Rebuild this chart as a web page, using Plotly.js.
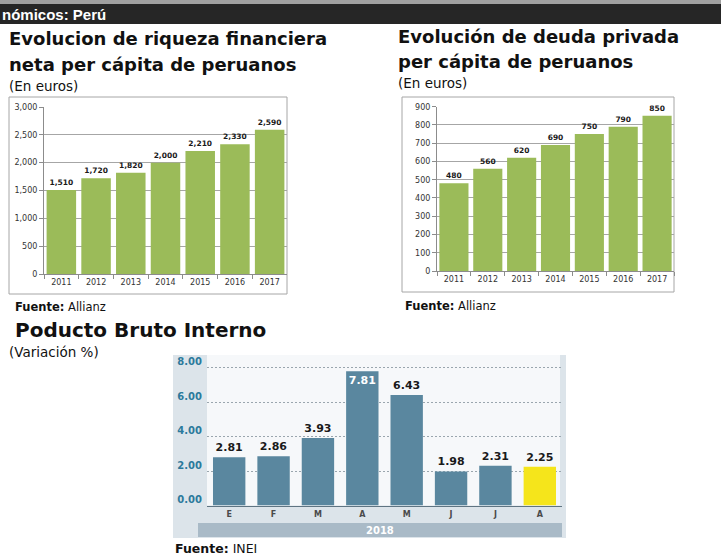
<!DOCTYPE html>
<html>
<head>
<meta charset="utf-8">
<script src="https://cdn.plot.ly/plotly-3.0.1.min.js"></script>
<style>
  html, body { margin: 0; padding: 0; background: #ffffff; }
  #chart { width: 721px; height: 560px; }
</style>
</head>
<body>
<div id="chart"></div>
<script>
// ---------- DATA ----------
const years = ['2011', '2012', '2013', '2014', '2015', '2016', '2017'];
const riquezaNeta = [1510, 1720, 1820, 2000, 2210, 2330, 2590];
const deudaPrivada = [480, 560, 620, 690, 750, 790, 850];
const meses = ['Enero', 'Febrero', 'Marzo', 'Abril', 'Mayo', 'Junio', 'Julio', 'Agosto'];
const mesesEtiquetas = ['E', 'F', 'M', 'A', 'M', 'J', 'J', 'A'];
const pbiVariacion = [2.81, 2.86, 3.93, 7.81, 6.43, 1.98, 2.31, 2.25];
const pbiTicks = [0, 2, 4, 6, 8];
const anioPbi = '2018';

// ---------- helpers (pixel -> paper) ----------
const W = 721, H = 560;
const px = v => v / W;
const py = v => 1 - v / H;

const GREEN = '#9bbb59';
const BLUE = '#5a879f';
const YELLOW = '#f5e51b';
const SANS = 'DejaVu Sans';

const traces = [
  {
    type: 'bar', x: years, y: riquezaNeta, xaxis: 'x', yaxis: 'y',
    marker: { color: GREEN }, width: 0.85,
    texttemplate: '%{y:,}', textposition: 'outside', cliponaxis: false,
    textfont: { family: SANS, size: 7.5, weight: 'bold', color: '#1a1a1a' },
    hoverinfo: 'skip'
  },
  {
    type: 'bar', x: years, y: deudaPrivada, xaxis: 'x2', yaxis: 'y2',
    marker: { color: GREEN }, width: 0.86,
    texttemplate: '%{y:,}', textposition: 'outside', cliponaxis: false,
    textfont: { family: SANS, size: 7.5, weight: 'bold', color: '#1a1a1a' },
    hoverinfo: 'skip'
  },
  {
    type: 'bar', x: meses, y: pbiVariacion, xaxis: 'x3', yaxis: 'y3',
    marker: { color: pbiVariacion.map((v, i) => i === pbiVariacion.length - 1 ? YELLOW : BLUE) },
    width: 0.73,
    texttemplate: '%{y:.2f}',
    textposition: pbiVariacion.map(v => v > 7 ? 'inside' : 'outside'),
    insidetextanchor: 'end', textangle: 0, constraintext: 'none',
    insidetextfont: { family: SANS, size: 11, weight: 'bold', color: '#ffffff' },
    outsidetextfont: { family: SANS, size: 11, weight: 'bold', color: '#1a1a1a' },
    cliponaxis: false, hoverinfo: 'skip'
  }
];

const axisFont = { family: SANS, size: 8, color: '#333333' };

const layout = {
  width: W, height: H,
  margin: { l: 0, r: 0, t: 0, b: 0 },
  paper_bgcolor: '#ffffff', plot_bgcolor: 'rgba(0,0,0,0)',
  showlegend: false,
  // ---- chart 1 ----
  xaxis: {
    domain: [px(44), px(287)], anchor: 'y', type: 'category',
    showline: true, linecolor: '#8c8c8c', linewidth: 1,
    ticks: 'outside', tickson: 'boundaries', ticklen: 4, tickcolor: '#8c8c8c',
    tickfont: axisFont, showgrid: false, fixedrange: true
  },
  yaxis: {
    domain: [py(274), py(107)], anchor: 'x', range: [0, 3000], dtick: 500,
    tickformat: ',', showline: true, linecolor: '#8c8c8c', linewidth: 1,
    ticks: 'outside', ticklen: 4, tickcolor: '#8c8c8c',
    gridcolor: '#a6a6a6', gridwidth: 1, zeroline: false,
    tickfont: axisFont, fixedrange: true
  },
  // ---- chart 2 ----
  xaxis2: {
    domain: [px(437), px(674)], anchor: 'y2', type: 'category',
    showline: true, linecolor: '#8c8c8c', linewidth: 1,
    ticks: 'outside', tickson: 'boundaries', ticklen: 4, tickcolor: '#8c8c8c',
    tickfont: axisFont, showgrid: false, fixedrange: true
  },
  yaxis2: {
    domain: [py(271), py(106.7)], anchor: 'x2', range: [0, 900], dtick: 100,
    showline: true, linecolor: '#8c8c8c', linewidth: 1,
    ticks: 'outside', ticklen: 4, tickcolor: '#8c8c8c',
    gridcolor: '#a6a6a6', gridwidth: 1, zeroline: false,
    tickfont: axisFont, fixedrange: true
  },
  // ---- chart 3 ----
  xaxis3: {
    domain: [px(207), px(562)], anchor: 'y3', type: 'category',
    tickvals: meses, ticktext: mesesEtiquetas,
    showline: true, linecolor: '#5f7482', linewidth: 1.5,
    ticks: '', showgrid: false,
    tickfont: { family: SANS, size: 8, weight: 'bold', color: '#4a4a4a' },
    fixedrange: true
  },
  yaxis3: {
    domain: [py(505.5), py(355)], anchor: 'x3', range: [0, 8.75],
    tickvals: pbiTicks, tickformat: '.2f',
    showline: false, zeroline: false, ticks: '',
    gridcolor: '#9aa6ae', gridwidth: 1, griddash: '2px,2px',
    ticklabelshift: -6, ticklabelstandoff: 4,
    tickfont: { family: SANS, size: 10, weight: 'bold', color: '#2c7a9c' },
    fixedrange: true
  },
  shapes: [
    // header bar
    { type: 'rect', xref: 'paper', yref: 'paper', x0: 0, x1: 1, y0: py(4), y1: py(0), fillcolor: '#a0a0a0', line: { width: 0 }, layer: 'below' },
    { type: 'rect', xref: 'paper', yref: 'paper', x0: 0, x1: 1, y0: py(24), y1: py(4), fillcolor: '#262626', line: { width: 0 }, layer: 'below' },
    // chart boxes
    { type: 'rect', xref: 'paper', yref: 'paper', x0: px(9), x1: px(287), y0: py(294), y1: py(97), line: { color: '#a6a6a6', width: 1 }, layer: 'below' },
    { type: 'rect', xref: 'paper', yref: 'paper', x0: px(402), x1: px(674), y0: py(292), y1: py(97), line: { color: '#a6a6a6', width: 1 }, layer: 'below' },
    // chart 3 panel
    { type: 'rect', xref: 'paper', yref: 'paper', x0: px(173), x1: px(566), y0: py(538), y1: py(355), fillcolor: '#dce4ea', line: { width: 0 }, layer: 'below' },
    { type: 'rect', xref: 'paper', yref: 'paper', x0: px(207), x1: px(560), y0: py(505.5), y1: py(355), fillcolor: '#f6f8fa', line: { width: 0 }, layer: 'below' },
    { type: 'rect', xref: 'paper', yref: 'paper', x0: px(198), x1: px(562), y0: py(537), y1: py(523), fillcolor: '#a9bac7', line: { width: 0 }, layer: 'below' }
  ],
  annotations: [
    { text: '<b>nómicos: Perú</b>', x: px(1), y: py(14), xanchor: 'left', yanchor: 'middle', font: { family: 'Liberation Sans', size: 15, color: '#ffffff' } },
    { text: '<b>Evolucion de riqueza financiera</b>', x: px(8), y: py(39), xanchor: 'left', yanchor: 'middle', font: { family: SANS, size: 18, color: '#111111' } },
    { text: '<b>neta per cápita de peruanos</b>', x: px(8), y: py(64), xanchor: 'left', yanchor: 'middle', font: { family: SANS, size: 18, color: '#111111' } },
    { text: '(En euros)', x: px(8), y: py(86), xanchor: 'left', yanchor: 'middle', font: { family: SANS, size: 13.5, color: '#111111' } },
    { text: '<b>Evolución de deuda privada</b>', x: px(397), y: py(37), xanchor: 'left', yanchor: 'middle', font: { family: SANS, size: 18, color: '#111111' } },
    { text: '<b>per cápita de peruanos</b>', x: px(397), y: py(61), xanchor: 'left', yanchor: 'middle', font: { family: SANS, size: 18, color: '#111111' } },
    { text: '(En euros)', x: px(397), y: py(83), xanchor: 'left', yanchor: 'middle', font: { family: SANS, size: 13.5, color: '#111111' } },
    { text: '<b>Fuente:</b> Allianz', x: px(14), y: py(307), xanchor: 'left', yanchor: 'middle', font: { family: SANS, size: 11.5, color: '#111111' } },
    { text: '<b>Fuente:</b> Allianz', x: px(404), y: py(306), xanchor: 'left', yanchor: 'middle', font: { family: SANS, size: 11.5, color: '#111111' } },
    { text: '<b>Poducto Bruto Interno</b>', x: px(14), y: py(330), xanchor: 'left', yanchor: 'middle', font: { family: SANS, size: 20, color: '#111111' } },
    { text: '(Variación %)', x: px(8), y: py(352), xanchor: 'left', yanchor: 'middle', font: { family: SANS, size: 13.5, color: '#111111' } },
    { text: '<b>' + anioPbi + '</b>', x: px(380), y: py(530), xanchor: 'center', yanchor: 'middle', font: { family: SANS, size: 10, color: '#ffffff' } },
    { text: '<b>Fuente:</b> INEI', x: px(174), y: py(548), xanchor: 'left', yanchor: 'middle', font: { family: SANS, size: 12.5, color: '#111111' } }
  ].map(a => Object.assign({ xref: 'paper', yref: 'paper', showarrow: false, borderpad: 0 }, a))
};

Plotly.newPlot('chart', traces, layout, { staticPlot: true, displayModeBar: false });
</script>
</body>
</html>
